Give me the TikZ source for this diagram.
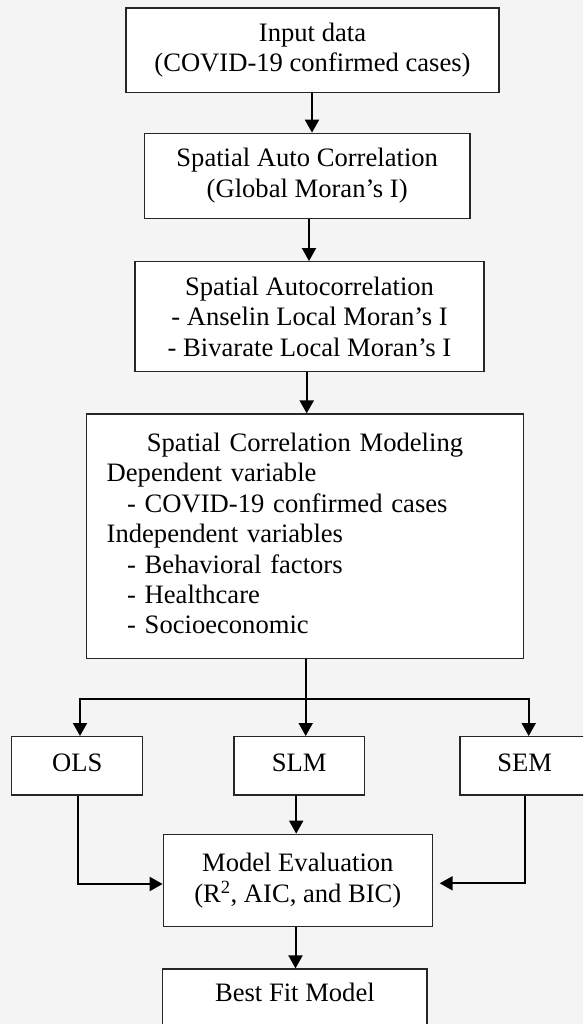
\documentclass[tikz,border=0pt]{standalone}
\usepackage{fontspec}
\setmainfont{Liberation Serif}
\usetikzlibrary{arrows.meta}
\definecolor{bgc}{HTML}{F4F4F4}
\begin{document}
\begin{tikzpicture}[x=1pt,y=-1pt,
  box/.style={draw=black!85, line width=1.3pt, fill=white, inner sep=0pt, align=center,
    font=\fontsize{26.6}{30.4}\selectfont},
  sbox/.style={box, text height=18pt, text depth=6pt},
  arr/.style={line width=2pt, -{Triangle[length=13pt,width=14pt]}}]
\useasboundingbox (0,0) rectangle (583,1024);
\fill[bgc] (0,0) rectangle (583,1024);
\clip (0,0) rectangle (583,1024);

\node[box, minimum width=373pt, minimum height=84.7pt] (b1) at (312.5,50.3)
  {Input data\\(COVID-19 confirmed cases)};
\node[box, minimum width=325.7pt, minimum height=85pt] (b2) at (307.2,175.8)
  {Spatial Auto Correlation\\(Global Moran’s I)};
\node[box, minimum width=349pt, minimum height=110pt] (b3) at (309.5,316.7)
  {Spatial Autocorrelation\\- Anselin Local Moran’s I\\- Bivarate Local Moran’s I};
\node[box, align=left, text width=396.6pt, inner xsep=20pt, minimum height=244.3pt] (b4) at (305,536.2)
  {\makebox[396.6pt][c]{Spatial Correlation Modeling}\\
   Dependent variable\\
   \hspace*{20.3pt}- COVID-19 confirmed cases\\
   Independent variables\\
   \hspace*{20.3pt}- Behavioral factors\\
   \hspace*{20.3pt}- Healthcare\\
   \hspace*{20.3pt}- Socioeconomic\vphantom{(}};
\node[sbox, minimum width=131pt, minimum height=58.3pt] (ols) at (77.2,765.8) {OLS};
\node[sbox, minimum width=130.3pt, minimum height=58.3pt] (slm) at (299.2,765.8) {SLM};
\node[sbox, minimum width=129.4pt, minimum height=58.3pt] (sem) at (524.7,765.8) {SEM};
\node[box, minimum width=269pt, minimum height=92.4pt] (me) at (297.8,880.5)
  {Model Evaluation\\(R\textsuperscript{2}, AIC, and BIC)};
\node[sbox, text depth=11pt, minimum width=264.3pt, minimum height=58.3pt] (bf) at (294.9,998.2) {Best Fit Model};

\draw[arr] ([xshift=-0.5pt]b1.south) -- ([xshift=-0.5pt]b1.south |- b2.north);
\draw[arr] ([xshift=1.8pt]b2.south) -- ([xshift=1.8pt]b2.south |- b3.north);
\draw[arr] ([xshift=-2.8pt]b3.south) -- ([xshift=-2.8pt]b3.south |- b4.north);
\coordinate (br) at (305.7,699.3);
\draw[arr] ([xshift=0.7pt]b4.south) -- ([xshift=0.7pt]b4.south |- slm.north);
\draw[arr] (br) -| ([xshift=2.8pt]ols.north);
\draw[arr] (br) -| ([xshift=4pt]sem.north);
\draw[arr] ([xshift=-3pt]slm.south) -- ([xshift=-3pt]slm.south |- me.north);
\draw[arr] ([xshift=1.1pt]ols.south) |- ([yshift=-3.5pt]me.west);
\draw[arr, shorten >=6.7pt] ([xshift=0.6pt]sem.south) |- ([yshift=-2.8pt]me.east);
\draw[arr] ([xshift=-2.3pt]me.south) -- ([xshift=-2.3pt]me.south |- bf.north);
\end{tikzpicture}
\end{document}
